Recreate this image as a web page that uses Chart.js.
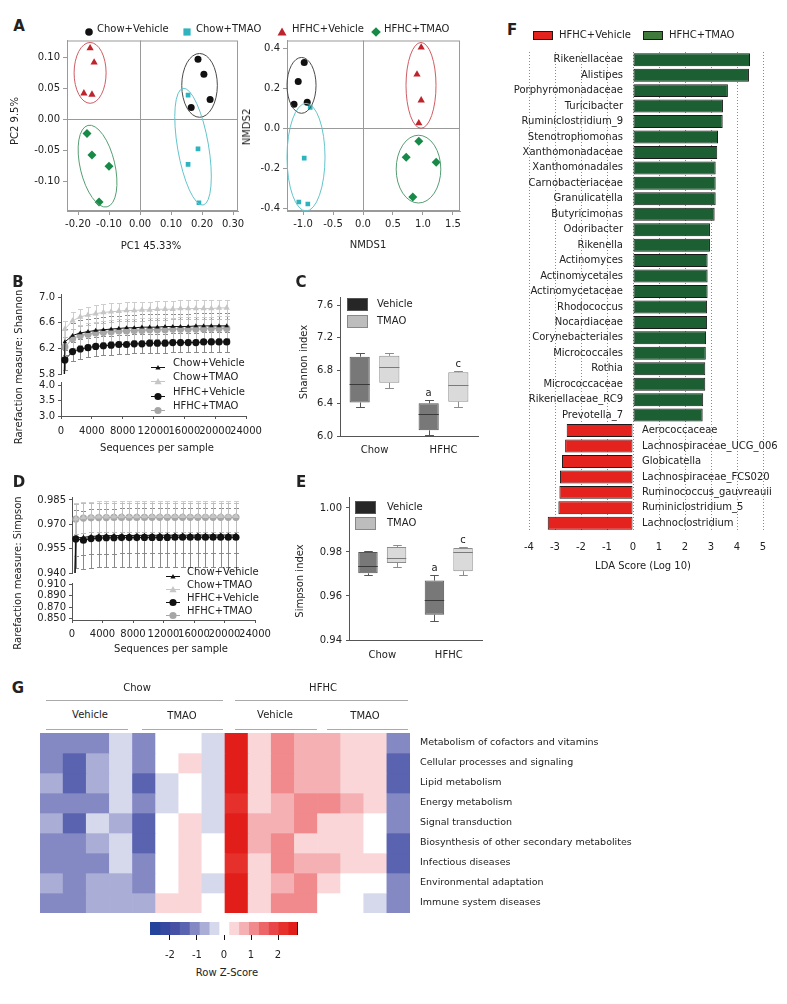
<!DOCTYPE html>
<html>
<head>
<meta charset="utf-8">
<title>Figure</title>
<script src="https://cdn.jsdelivr.net/npm/chart.js@4.4.1/dist/chart.umd.min.js"></script>
<style>
  body { margin: 0; background: #fff; }
  #page { position: relative; width: 787px; height: 1004px; overflow: hidden; font-family: 'DejaVu Sans', sans-serif; color: #222; }
  #page canvas { position: absolute; }
  .t { position: absolute; font-size: 10px; line-height: 12px; white-space: nowrap; }
  .hl { position: absolute; height: 1px; background: #aaa; }
  .sw { position: absolute; box-sizing: border-box; }
</style>
</head>
<body>
<div id="page"></div>
<script>
// ---------- A: PCA and NMDS ----------
const groupNames = ['Chow+Vehicle', 'Chow+TMAO', 'HFHC+Vehicle', 'HFHC+TMAO'];
const pc1 = [[0.187, 0.206, 0.226, 0.165], [0.155, 0.187, 0.155, 0.190], [-0.161, -0.148, -0.181, -0.155], [-0.171, -0.155, -0.100, -0.132]];
const pc2 = [[0.097, 0.073, 0.032, 0.019], [0.039, -0.048, -0.073, -0.135], [0.115, 0.092, 0.042, 0.040], [-0.023, -0.058, -0.076, -0.134]];
const pcTicksX = [-0.2, -0.1, 0, 0.1, 0.2, 0.3];
const pcTicksY = [-0.1, -0.05, 0, 0.05, 0.1];
const nmds1 = [[-0.98, -1.08, -1.15, -0.93], [-0.88, -0.98, -1.07, -0.92], [0.97, 0.90, 0.97, 0.93], [0.93, 0.72, 1.22, 0.83]];
const nmds2 = [[0.33, 0.235, 0.12, 0.13], [0.105, -0.15, -0.37, -0.38], [0.405, 0.27, 0.14, 0.025], [-0.065, -0.145, -0.17, -0.345]];
const nmdsTicksX = [-1, -0.5, 0, 0.5, 1, 1.5];
const nmdsTicksY = [-0.4, -0.2, 0, 0.2, 0.4];
// group ellipses: centre x, centre y, half width, half height (data units), tilt
const pcaHulls = [[0.192, 0.0548, 0.0574, 0.0516, 0], [0.171, -0.0444, 0.050, 0.0958, -0.17], [-0.161, 0.0750, 0.0516, 0.0492, 0], [-0.137, -0.0758, 0.056, 0.0677, -0.23]];
const nmdsHulls = [[-1.025, 0.215, 0.242, 0.14, 0], [-0.95, -0.145, 0.317, 0.27, 0], [0.967, 0.215, 0.25, 0.215, 0], [0.925, -0.205, 0.372, 0.17, 0]];

// ---------- B / D: rarefaction ----------
const depths = [10, 500, 1500, 2500, 3500, 4500, 5500, 6500, 7500, 8500, 9500, 10500, 11500, 12500, 13500, 14500, 15500, 16500, 17500, 18500, 19500, 20500, 21500];
const seqTicks = [0, 4000, 8000, 12000, 16000, 20000, 24000];
const shannonChowVeh = [3.0, 6.30, 6.40, 6.44, 6.46, 6.48, 6.49, 6.50, 6.51, 6.52, 6.52, 6.53, 6.53, 6.53, 6.54, 6.54, 6.54, 6.54, 6.55, 6.55, 6.55, 6.55, 6.55];
const shannonChowTmao = [3.1, 6.50, 6.63, 6.69, 6.72, 6.74, 6.76, 6.77, 6.78, 6.79, 6.79, 6.80, 6.80, 6.81, 6.81, 6.81, 6.82, 6.82, 6.82, 6.82, 6.82, 6.83, 6.83];
const shannonHfhcVeh = [2.95, 6.02, 6.15, 6.19, 6.21, 6.23, 6.24, 6.25, 6.26, 6.26, 6.27, 6.27, 6.28, 6.28, 6.28, 6.29, 6.29, 6.29, 6.29, 6.30, 6.30, 6.30, 6.30];
const shannonHfhcTmao = [3.05, 6.22, 6.35, 6.40, 6.42, 6.44, 6.45, 6.46, 6.47, 6.47, 6.48, 6.48, 6.49, 6.49, 6.49, 6.50, 6.50, 6.50, 6.50, 6.50, 6.51, 6.51, 6.51];
const shannonSd = [0.20, 0.13, 0.15, 0.15];
const shannonTicksHi = [5.8, 6.2, 6.6, 7.0];
const shannonTicksLo = [3.0, 3.5, 4.0];
const simpsonChowVeh = [0.860, 0.9615, 0.9620, 0.9625, 0.9628, 0.9630, 0.9630, 0.9631, 0.9631, 0.9632, 0.9632, 0.9632, 0.9633, 0.9633, 0.9633, 0.9633, 0.9633, 0.9634, 0.9634, 0.9634, 0.9634, 0.9634, 0.9634];
const simpsonChowTmao = [0.870, 0.9735, 0.9742, 0.9745, 0.9746, 0.9747, 0.9747, 0.9748, 0.9748, 0.9748, 0.9748, 0.9749, 0.9749, 0.9749, 0.9749, 0.9749, 0.9749, 0.9749, 0.9750, 0.9750, 0.9750, 0.9750, 0.9750];
const simpsonHfhcVeh = [0.850, 0.9610, 0.9602, 0.9612, 0.9615, 0.9617, 0.9617, 0.9618, 0.9618, 0.9618, 0.9619, 0.9619, 0.9619, 0.9619, 0.9620, 0.9620, 0.9620, 0.9620, 0.9620, 0.9620, 0.9620, 0.9620, 0.9620];
const simpsonHfhcTmao = [0.865, 0.9732, 0.9738, 0.9740, 0.9741, 0.9741, 0.9742, 0.9742, 0.9742, 0.9742, 0.9742, 0.9743, 0.9743, 0.9743, 0.9743, 0.9743, 0.9743, 0.9743, 0.9743, 0.9743, 0.9743, 0.9743, 0.9743];
const simpsonSd = [0.011, 0.0095, 0.018, 0.009];
const simpsonTicksHi = [0.94, 0.955, 0.97, 0.985];
const simpsonTicksLo = [0.85, 0.87, 0.89, 0.91];

// ---------- C / E: box plots ----------
const boxGroups = ['Chow', 'HFHC'];
const shannonVehBox = [[6.41, 6.97], [6.07, 6.40]];
const shannonVehMed = [6.64, 6.27];
const shannonVehRange = [[6.35, 7.02], [6.01, 6.44]];
const shannonTmaoBox = [[6.65, 6.98], [6.42, 6.78]];
const shannonTmaoMed = [6.84, 6.62];
const shannonTmaoRange = [[6.59, 7.02], [6.36, 6.79]];
const shannonVehSig = ['', 'a'];
const shannonTmaoSig = ['', 'c'];
const shannonIdxTicks = [6.0, 6.4, 6.8, 7.2, 7.6];
const simpsonVehBox = [[0.9703, 0.9800], [0.9515, 0.9670]];
const simpsonVehMed = [0.9736, 0.9584];
const simpsonVehRange = [[0.9694, 0.9805], [0.9487, 0.9694]];
const simpsonTmaoBox = [[0.9750, 0.9823], [0.9713, 0.9818]];
const simpsonTmaoMed = [0.9773, 0.9800];
const simpsonTmaoRange = [[0.9731, 0.9832], [0.9694, 0.9823]];
const simpsonVehSig = ['', 'a'];
const simpsonTmaoSig = ['', 'c'];
const simpsonIdxTicks = [0.94, 0.96, 0.98, 1.00];

// ---------- F: LEfSe ----------
const taxa = ['Rikenellaceae', 'Alistipes', 'Porphyromonadaceae', 'Turicibacter', 'Ruminiclostridium_9', 'Stenotrophomonas', 'Xanthomonadaceae', 'Xanthomonadales', 'Carnobacteriaceae', 'Granulicatella', 'Butyricimonas', 'Odoribacter', 'Rikenella', 'Actinomyces', 'Actinomycetales', 'Actinomycetaceae', 'Rhodococcus', 'Nocardiaceae', 'Corynebacteriales', 'Micrococcales', 'Rothia', 'Micrococcaceae', 'Rikenellaceae_RC9', 'Prevotella_7', 'Aerococcaceae', 'Lachnospiraceae_UCG_006', 'Globicatella', 'Lachnospiraceae_FCS020', 'Ruminococcus_gauvreauii', 'Ruminiclostridium_5', 'Lachnoclostridium'];
const ldaScores = [4.5, 4.46, 3.65, 3.46, 3.45, 3.27, 3.24, 3.18, 3.18, 3.18, 3.14, 2.96, 2.96, 2.87, 2.87, 2.87, 2.85, 2.85, 2.81, 2.8, 2.78, 2.78, 2.7, 2.68, -2.55, -2.61, -2.73, -2.81, -2.83, -2.87, -3.28];
const ldaTicks = [-4, -3, -2, -1, 0, 1, 2, 3, 4, 5];

// ---------- G: heatmap ----------
const pathways = ['Metabolism of cofactors and vitamins', 'Cellular processes and signaling', 'Lipid metabolism', 'Energy metabolism', 'Signal transduction', 'Biosynthesis of other secondary metabolites', 'Infectious diseases', 'Environmental adaptation', 'Immune system diseases'];
const heatSamples = ['CV1', 'CV2', 'CV3', 'CV4', 'CT1', 'CT2', 'CT3', 'CT4', 'HV1', 'HV2', 'HV3', 'HV4', 'HT1', 'HT2', 'HT3', 'HT4'];
const heatZ = [
  [-1.1, -1.1, -1.1, -0.35, -1.1, 0, 0, -0.35, 2.5, 0.35, 1.1, 0.75, 0.75, 0.35, 0.35, -1.1],
  [-1.1, -1.45, -0.75, -0.35, -1.1, 0, 0.35, -0.35, 2.5, 0.35, 1.1, 0.75, 0.75, 0.35, 0.35, -1.45],
  [-0.75, -1.45, -0.75, -0.35, -1.45, -0.35, 0, -0.35, 2.5, 0.35, 1.1, 0.75, 0.75, 0.35, 0.35, -1.45],
  [-1.1, -1.1, -1.1, -0.35, -1.1, -0.35, 0, -0.35, 2.2, 0.35, 0.75, 1.1, 1.1, 0.75, 0.35, -1.1],
  [-0.75, -1.45, -0.35, -0.75, -1.45, 0, 0.35, -0.35, 2.5, 0.75, 0.75, 1.1, 0.35, 0.35, 0, -1.1],
  [-1.1, -1.1, -0.75, -0.35, -1.45, 0, 0.35, 0, 2.5, 0.75, 1.1, 0.35, 0.35, 0.35, 0, -1.45],
  [-1.1, -1.1, -1.1, -0.35, -1.1, 0, 0.35, 0, 2.2, 0.35, 1.1, 0.75, 0.75, 0.35, 0.35, -1.45],
  [-0.75, -1.1, -0.75, -0.75, -1.1, 0, 0.35, -0.35, 2.5, 0.35, 0.75, 1.1, 0.35, 0, 0, -1.1],
  [-1.1, -1.1, -0.75, -0.75, -0.75, 0.35, 0.35, 0, 2.5, 0.35, 1.1, 1.1, 0, 0, -0.35, -1.1]
];
const zTicks = [-2, -1, 0, 1, 2];

// ---------- styles ----------
const groupColors = ['#111111', '#2db4be', '#bd242b', '#188a48'];
const groupShapes = ['circle', 'rect', 'triangle', 'rectRot'];
const groupSizes = [3.5, 3.3, 4.2, 4.5];
const hullColors = ['#4a4a4a', '#62c4cc', '#cf5c62', '#559e72'];
const rareColors = ['#111111', '#c6c6c6', '#111111', '#a6a6a6'];
const rareShapes = ['triangle', 'triangle', 'circle', 'circle'];
const rareSizes = [2.6, 3.6, 3.6, 3.6];
const rareErrColors = ['#8a8a8a', '#cdcdcd', '#8a8a8a', '#bdbdbd'];
const zPalette = ['#24449c', '#34499f', '#4650a5', '#5a63b0', '#8489c4', '#aaaed6', '#d6d8ec', '#ffffff', '#fad6d8', '#f4b0b2', '#f08a8c', '#ec6668', '#e84648', '#e5302c', '#e21e1b'];
const zMin = -2.74, zMax = 2.74;
const zStep = (zMax - zMin) / zPalette.length;

Chart.defaults.font.family = "'DejaVu Sans', sans-serif";
Chart.defaults.font.size = 10;
Chart.defaults.color = '#222';
Chart.defaults.animation = false;
Chart.defaults.responsive = false;
Chart.defaults.devicePixelRatio = 1;
Chart.defaults.plugins.legend.display = false;
Chart.defaults.plugins.tooltip.enabled = false;

const page = document.getElementById('page');

function canvasAt(x, y, w, h) {
  const c = document.createElement('canvas');
  c.width = w; c.height = h;
  c.style.left = x + 'px'; c.style.top = y + 'px';
  c.style.width = w + 'px'; c.style.height = h + 'px';
  page.appendChild(c);
  return c;
}
function fixedTicks(list) { return s => { s.ticks = list.map(v => ({ value: v })); }; }
function yFit(w) { return s => { s.width = w; s.paddingTop = 0; s.paddingBottom = 0; }; }
function xFit(h) { return s => { s.height = h; s.paddingLeft = 0; s.paddingRight = 0; }; }
function zColor(z) {
  const k = Math.floor((z - zMin) / zStep);
  return zPalette[Math.max(0, Math.min(zPalette.length - 1, k))];
}

// ---------- plugins ----------
const framePlugin = {
  id: 'frame',
  beforeDatasetsDraw(chart) {
    const { ctx, chartArea: a } = chart;
    ctx.save();
    ctx.strokeStyle = '#9a9a9a';
    ctx.lineWidth = 1;
    ctx.strokeRect(a.left + 0.5, a.top + 0.5, a.width - 1, a.height - 1);
    ctx.restore();
  }
};

function hullPlugin(list, colors) {
  return {
    id: 'hulls',
    afterDatasetsDraw(chart) {
      const { ctx, scales: { x, y } } = chart;
      ctx.save();
      ctx.lineWidth = 1;
      list.forEach((h, i) => {
        const cx = x.getPixelForValue(h[0]), cy = y.getPixelForValue(h[1]);
        const rx = Math.abs(x.getPixelForValue(h[0] + h[2]) - cx);
        const ry = Math.abs(y.getPixelForValue(h[1] + h[3]) - cy);
        ctx.strokeStyle = colors[i];
        ctx.beginPath();
        ctx.ellipse(cx, cy, rx, ry, h[4], 0, Math.PI * 2);
        ctx.stroke();
      });
      ctx.restore();
    }
  };
}

const errorBarPlugin = {
  id: 'errorBars',
  beforeDatasetsDraw(chart) {
    const ctx = chart.ctx;
    chart.data.datasets.forEach((ds, i) => {
      if (!ds.sd) return;
      const meta = chart.getDatasetMeta(i);
      const ys = chart.scales[meta.yAxisID];
      ctx.save();
      ctx.strokeStyle = ds.errColor;
      ctx.lineWidth = 1;
      ctx.beginPath();
      meta.data.forEach((pt, j) => {
        if (j === 0) return;
        const v = ds.data[j].y;
        const x = Math.round(pt.x) + 0.5;
        const top = Math.round(ys.getPixelForValue(v + ds.sd)) + 0.5;
        const bot = Math.round(ys.getPixelForValue(v - ds.sd)) + 0.5;
        ctx.moveTo(x, top); ctx.lineTo(x, bot);
        ctx.moveTo(x - 2.5, top); ctx.lineTo(x + 2.5, top);
        ctx.moveTo(x - 2.5, bot); ctx.lineTo(x + 2.5, bot);
      });
      ctx.stroke();
      ctx.restore();
    });
  }
};

const boxPlugin = {
  id: 'boxParts',
  afterDatasetsDraw(chart) {
    const { ctx } = chart;
    const y = chart.scales.y;
    chart.data.datasets.forEach((ds, i) => {
      const meta = chart.getDatasetMeta(i);
      meta.data.forEach((bar, j) => {
        const hw = bar.width / 2, cap = bar.width * 0.22;
        const [q1, q3] = ds.data[j];
        const [lo, hi] = ds.range[j];
        const pl = Math.round(y.getPixelForValue(lo)) + 0.5, ph = Math.round(y.getPixelForValue(hi)) + 0.5;
        const p1 = y.getPixelForValue(q1), p3 = y.getPixelForValue(q3);
        const pm = Math.round(y.getPixelForValue(ds.med[j])) + 0.5;
        const x = Math.round(bar.x) + 0.5;
        ctx.save();
        ctx.lineWidth = 1;
        ctx.strokeStyle = ds.borderColor;
        ctx.beginPath();
        ctx.moveTo(x, p3); ctx.lineTo(x, ph);
        ctx.moveTo(x - cap, ph); ctx.lineTo(x + cap, ph);
        ctx.moveTo(x, p1); ctx.lineTo(x, pl);
        ctx.moveTo(x - cap, pl); ctx.lineTo(x + cap, pl);
        ctx.stroke();
        ctx.strokeStyle = ds.medColor;
        ctx.beginPath();
        ctx.moveTo(bar.x - hw, pm); ctx.lineTo(bar.x + hw, pm);
        ctx.stroke();
        if (ds.sig[j]) {
          ctx.fillStyle = '#222';
          ctx.font = "10px 'DejaVu Sans'";
          ctx.textAlign = 'center';
          ctx.textBaseline = 'bottom';
          ctx.fillText(ds.sig[j], bar.x, ph - 2);
        }
        ctx.restore();
      });
    });
  }
};

const ldaLabelPlugin = {
  id: 'ldaLabels',
  afterDatasetsDraw(chart) {
    const { ctx, scales: { x, y } } = chart;
    const zero = x.getPixelForValue(0);
    ctx.save();
    ctx.font = "10px 'DejaVu Sans'";
    ctx.fillStyle = '#222';
    ctx.textBaseline = 'middle';
    taxa.forEach((name, i) => {
      const py = y.getPixelForValue(i);
      if (ldaScores[i] >= 0) { ctx.textAlign = 'right'; ctx.fillText(name, zero - 10, py); }
      else { ctx.textAlign = 'left'; ctx.fillText(name, zero + 9, py); }
    });
    ctx.restore();
  }
};

// colour key gets a thin dark edge on its right end
const keyEdgePlugin = {
  id: 'keyEdge',
  afterDatasetsDraw(chart) {
    const { ctx, chartArea: a } = chart;
    ctx.save();
    ctx.strokeStyle = '#111';
    ctx.lineWidth = 1;
    ctx.beginPath();
    ctx.moveTo(a.right - 0.5, a.top); ctx.lineTo(a.right - 0.5, a.bottom);
    ctx.stroke();
    ctx.restore();
  }
};

// ---------- A ----------
function crossAxis(min, max, list, fmt, fit) {
  return {
    type: 'linear', min, max,
    afterBuildTicks: fixedTicks(list), afterFit: fit,
    grid: { color: c => (c.tick && c.tick.value === 0 ? '#9a9a9a' : 'rgba(0,0,0,0)'), tickColor: '#9a9a9a', tickLength: 4 },
    border: { color: '#9a9a9a' },
    ticks: { callback: fmt, padding: 3, autoSkip: false, maxRotation: 0 }
  };
}
function ordinationData(xs, ys) {
  return {
    datasets: groupNames.map((g, i) => ({
      label: g,
      data: xs[i].map((v, j) => ({ x: v, y: ys[i][j] })),
      pointStyle: groupShapes[i], pointRadius: groupSizes[i],
      backgroundColor: groupColors[i], borderColor: groupColors[i], borderWidth: 0
    }))
  };
}

new Chart(canvasAt(0, 36, 244, 216), {
  type: 'scatter',
  data: ordinationData(pc1, pc2),
  options: {
    layout: { padding: { top: 4, right: 6 } },
    scales: {
      x: crossAxis(-0.2355, 0.316, pcTicksX, v => v.toFixed(2), xFit(41)),
      y: crossAxis(-0.1484, 0.1274, pcTicksY, v => v.toFixed(2), yFit(67))
    }
  },
  plugins: [framePlugin, hullPlugin(pcaHulls, hullColors)]
});

new Chart(canvasAt(245, 36, 221, 216), {
  type: 'scatter',
  data: ordinationData(nmds1, nmds2),
  options: {
    layout: { padding: { top: 4, right: 6 } },
    scales: {
      x: crossAxis(-1.267, 1.617, nmdsTicksX, v => v.toFixed(1), xFit(41)),
      y: crossAxis(-0.415, 0.44, nmdsTicksY, v => v.toFixed(1), yFit(42))
    }
  },
  plugins: [framePlugin, hullPlugin(nmdsHulls, hullColors)]
});

// ---------- B / D ----------
function stackY(min, max, list, dec, sw, order, w) {
  return {
    type: 'linear', min, max, stack: 'rare', stackWeight: sw, weight: order,
    afterBuildTicks: fixedTicks(list), afterFit: yFit(w),
    grid: { drawOnChartArea: false, tickLength: 3, color: '#555' },
    border: { color: '#555' },
    ticks: { callback: v => v.toFixed(dec), padding: 3, autoSkip: false }
  };
}
function rareChart(box, area, series, sds, hi, lo, pad) {
  const drawOrder = [0, 2, 1, 3];
  return new Chart(canvasAt(box[0], box[1], box[2], box[3]), {
    type: 'line',
    data: {
      datasets: drawOrder.map(k => ({
        label: groupNames[k],
        data: depths.map((d, j) => ({ x: d, y: series[k][j] })),
        borderColor: rareColors[k], backgroundColor: rareColors[k], borderWidth: 1,
        pointStyle: rareShapes[k], pointRadius: c => (c.dataIndex === 0 ? 0 : rareSizes[k]),
        pointBorderWidth: 0, tension: 0, sd: sds[k], errColor: rareErrColors[k]
      }))
    },
    options: {
      layout: { padding: { top: area.t - box[1], right: box[0] + box[2] - area.r } },
      scales: {
        x: {
          type: 'linear', min: 0, max: 24000,
          afterBuildTicks: fixedTicks(seqTicks), afterFit: xFit(box[1] + box[3] - area.b),
          grid: { drawOnChartArea: false, tickLength: 3, color: '#555' },
          border: { color: '#555' },
          ticks: { callback: v => String(v), autoSkip: false, maxRotation: 0, padding: pad }
        },
        y: stackY(hi.min, hi.max, hi.ticks, hi.dec, hi.w, 3, area.l - box[0]),
        yg: { type: 'linear', display: false, stack: 'rare', stackWeight: area.gap, weight: 2 },
        y2: stackY(lo.min, lo.max, lo.ticks, lo.dec, lo.w, 1, area.l - box[0])
      }
    },
    plugins: [errorBarPlugin]
  });
}

rareChart([0, 288, 268, 157], { l: 61, t: 294, r: 246, b: 416, gap: 8 },
  [shannonChowVeh, shannonChowTmao, shannonHfhcVeh, shannonHfhcTmao], shannonSd,
  { min: 5.8, max: 7.047, ticks: shannonTicksHi, dec: 1, w: 80 },
  { min: 3.0, max: 4.1, ticks: shannonTicksLo, dec: 1, w: 34 }, 6);

rareChart([0, 490, 276, 152], { l: 72, t: 497, r: 255, b: 620, gap: 10 },
  [simpsonChowVeh, simpsonChowTmao, simpsonHfhcVeh, simpsonHfhcTmao], simpsonSd,
  { min: 0.94, max: 0.9868, ticks: simpsonTicksHi, dec: 3, w: 76 },
  { min: 0.848, max: 0.912, ticks: simpsonTicksLo, dec: 3, w: 37 }, 5);

// ---------- C / E ----------
function boxChart(box, area, veh, tmao, yr, pad) {
  return new Chart(canvasAt(box[0], box[1], box[2], box[3]), {
    type: 'bar',
    data: {
      labels: boxGroups,
      datasets: [
        { label: 'Vehicle', data: veh.box, range: veh.range, med: veh.med, sig: veh.sig,
          backgroundColor: '#787878', borderColor: '#555555', medColor: '#3a3a3a', borderWidth: 1, borderSkipped: false },
        { label: 'TMAO', data: tmao.box, range: tmao.range, med: tmao.med, sig: tmao.sig,
          backgroundColor: '#dadada', borderColor: '#8c8c8c', medColor: '#7a7a7a', borderWidth: 1, borderSkipped: false }
      ]
    },
    options: {
      layout: { padding: { top: area.t - box[1], right: box[0] + box[2] - area.r } },
      datasets: { bar: { categoryPercentage: 0.86, barPercentage: 0.68 } },
      scales: {
        x: {
          afterFit: xFit(box[1] + box[3] - area.b),
          grid: { display: false, drawTicks: false },
          border: { color: '#555' },
          ticks: { padding: pad }
        },
        y: {
          type: 'linear', min: yr.min, max: yr.max,
          afterBuildTicks: fixedTicks(yr.ticks), afterFit: yFit(area.l - box[0]),
          grid: { drawOnChartArea: false, tickLength: 3, color: '#555' },
          border: { color: '#555' },
          ticks: { callback: v => v.toFixed(yr.dec), padding: 4, autoSkip: false }
        }
      }
    },
    plugins: [boxPlugin]
  });
}

boxChart([300, 290, 182, 170], { l: 340, t: 297, r: 478, b: 436 },
  { box: shannonVehBox, range: shannonVehRange, med: shannonVehMed, sig: shannonVehSig },
  { box: shannonTmaoBox, range: shannonTmaoRange, med: shannonTmaoMed, sig: shannonTmaoSig },
  { min: 6.0, max: 7.7, ticks: shannonIdxTicks, dec: 1 }, 8);

boxChart([300, 490, 186, 172], { l: 349, t: 497, r: 482, b: 640 },
  { box: simpsonVehBox, range: simpsonVehRange, med: simpsonVehMed, sig: simpsonVehSig },
  { box: simpsonTmaoBox, range: simpsonTmaoRange, med: simpsonTmaoMed, sig: simpsonTmaoSig },
  { min: 0.94, max: 1.005, ticks: simpsonIdxTicks, dec: 2 }, 9);

// ---------- F ----------
new Chart(canvasAt(500, 44, 287, 535), {
  type: 'bar',
  data: {
    labels: taxa,
    datasets: [{
      data: ldaScores,
      backgroundColor: ldaScores.map(v => (v > 0 ? '#1c5f33' : '#e4231f')),
      borderColor: '#1a1a1a', borderWidth: 1, borderSkipped: false,
      barPercentage: 0.84, categoryPercentage: 1
    }]
  },
  options: {
    indexAxis: 'y',
    layout: { padding: { left: 29, right: 24, top: 8 } },
    scales: {
      x: {
        type: 'linear', min: -4, max: 5,
        afterBuildTicks: fixedTicks(ldaTicks), afterFit: xFit(48),
        grid: { color: '#8a8a8a', drawTicks: false },
        border: { display: false, dash: [1, 2] },
        ticks: { padding: 10, autoSkip: false }
      },
      y: { display: false }
    }
  },
  plugins: [ldaLabelPlugin]
});

// ---------- G ----------
new Chart(canvasAt(40, 733, 747, 180), {
  type: 'bar',
  data: {
    labels: heatSamples,
    datasets: pathways.map((p, r) => ({
      label: p,
      data: heatZ[r].map(() => 1),
      backgroundColor: heatZ[r].map(zColor),
      borderWidth: 0, barPercentage: 1, categoryPercentage: 1
    }))
  },
  options: {
    scales: {
      x: { stacked: true, display: false },
      y: { stacked: true, display: false, min: 0, max: 9, reverse: true },
      names: {
        type: 'category', labels: pathways, position: 'right', offset: true,
        grid: { display: false, drawTicks: false }, border: { display: false },
        ticks: { padding: 10, autoSkip: false, font: { size: 9.5 } },
        afterFit: s => { s.width = 377; s.paddingTop = 0; s.paddingBottom = 0; }
      }
    }
  }
});

new Chart(canvasAt(140, 918, 170, 46), {
  type: 'bar',
  data: {
    labels: ['z'],
    datasets: zPalette.map((col, k) => ({
      data: [[zMin + k * zStep, zMin + (k + 1) * zStep]],
      backgroundColor: col, borderWidth: 0, grouped: false,
      barPercentage: 1, categoryPercentage: 1
    }))
  },
  options: {
    indexAxis: 'y',
    layout: { padding: { left: 10, right: 12, top: 4 } },
    scales: {
      y: { display: false },
      x: {
        type: 'linear', min: zMin, max: zMax,
        afterBuildTicks: fixedTicks(zTicks), afterFit: xFit(29),
        grid: { drawOnChartArea: false, tickLength: 5, color: '#111' },
        border: { display: false },
        ticks: { padding: 9, autoSkip: false }
      }
    }
  },
  plugins: [keyEdgePlugin]
});

// ---------- text, legends ----------
function addText(str, x, y, o = {}) {
  const d = document.createElement('div');
  d.className = 't';
  d.textContent = str;
  d.style.left = x + 'px';
  d.style.top = y + 'px';
  if (o.size) { d.style.fontSize = o.size + 'px'; d.style.lineHeight = Math.round(o.size * 1.2) + 'px'; }
  if (o.bold) d.style.fontWeight = 'bold';
  d.style.transform = 'translate(' + (o.left ? '0' : '-50%') + ',-50%)' + (o.rot ? ' rotate(-90deg)' : '');
  page.appendChild(d);
}
function addSvg(inner, x, y, w, h) {
  const d = document.createElement('div');
  d.style.cssText = 'position:absolute;left:' + (x - w / 2) + 'px;top:' + (y - h / 2) + 'px;width:' + w + 'px;height:' + h + 'px';
  d.innerHTML = '<svg width="' + w + '" height="' + h + '" viewBox="0 0 ' + w + ' ' + h + '">' + inner + '</svg>';
  page.appendChild(d);
}
function shapeSvg(shape, cx, cy, r, fill) {
  if (shape === 'circle') return '<circle cx="' + cx + '" cy="' + cy + '" r="' + r + '" fill="' + fill + '"/>';
  if (shape === 'rect') return '<rect x="' + (cx - r) + '" y="' + (cy - r) + '" width="' + 2 * r + '" height="' + 2 * r + '" fill="' + fill + '"/>';
  if (shape === 'triangle') return '<polygon points="' + cx + ',' + (cy - r) + ' ' + (cx + r) + ',' + (cy + r * 0.75) + ' ' + (cx - r) + ',' + (cy + r * 0.75) + '" fill="' + fill + '"/>';
  return '<polygon points="' + cx + ',' + (cy - r) + ' ' + (cx + r) + ',' + cy + ' ' + cx + ',' + (cy + r) + ' ' + (cx - r) + ',' + cy + '" fill="' + fill + '"/>';
}
function hline(x1, x2, y) {
  const d = document.createElement('div');
  d.className = 'hl';
  d.style.left = x1 + 'px'; d.style.top = y + 'px'; d.style.width = (x2 - x1) + 'px';
  page.appendChild(d);
}
function swatch(x1, y1, x2, y2, fill, stroke) {
  const d = document.createElement('div');
  d.className = 'sw';
  d.style.cssText += 'left:' + x1 + 'px;top:' + y1 + 'px;width:' + (x2 - x1) + 'px;height:' + (y2 - y1) + 'px;background:' + fill + ';border:1px solid ' + stroke;
  page.appendChild(d);
}

// panel letters
[['A', 19, 26], ['B', 18, 282], ['C', 301, 282], ['D', 19, 482], ['E', 301, 482], ['F', 512, 30], ['G', 18, 688]]
  .forEach(([s, x, y]) => addText(s, x, y, { bold: true, size: 15 }));

// A legend
const aLegendX = [[89, 97], [187, 196], [282, 292], [376, 384]];
groupNames.forEach((g, i) => {
  addSvg(shapeSvg(groupShapes[i], 6, 6, groupSizes[i] + 0.3, groupColors[i]), aLegendX[i][0], 29, 12, 12);
  addText(g, aLegendX[i][1], 29, { left: true });
});
addText('PC2 9.5%', 15, 121, { rot: true });
addText('PC1 45.33%', 151, 246);
addText('NMDS2', 247, 127, { rot: true });
addText('NMDS1', 368, 245);

// B / D legends
function rareLegend(mx, tx, rows) {
  groupNames.forEach((g, k) => {
    addSvg('<line x1="0" y1="5.5" x2="14" y2="5.5" stroke="' + rareColors[k] + '" stroke-width="1"/>' +
      shapeSvg(rareShapes[k], 7, 5.5, rareSizes[k], rareColors[k]), mx, rows[k], 14, 11);
    addText(g, tx, rows[k], { left: true });
  });
}
rareLegend(158, 173, [363, 377, 392, 406]);
rareLegend(173, 187, [572, 585, 598, 611]);
addText('Rarefaction measure: Shannon', 19, 367, { rot: true });
addText('Sequences per sample', 157, 448);
addText('Rarefaction measure: Simpson', 18, 573, { rot: true });
addText('Sequences per sample', 171, 649);

// C / E legends
swatch(347, 298, 368, 311, '#262626', '#555');
swatch(347, 315, 368, 328, '#bdbdbd', '#888');
addText('Vehicle', 377, 304, { left: true });
addText('TMAO', 377, 321, { left: true });
addText('Shannon index', 304, 362, { rot: true });
swatch(355, 501, 376, 514, '#262626', '#555');
swatch(355, 517, 376, 530, '#bdbdbd', '#888');
addText('Vehicle', 387, 507, { left: true });
addText('TMAO', 387, 523, { left: true });
addText('Simpson index', 300, 581, { rot: true });

// F legend
swatch(533, 31, 553, 40, '#e4231f', '#1a1a1a');
addText('HFHC+Vehicle', 559, 35, { left: true });
swatch(643, 31, 663, 40, '#3f7a3c', '#1a1a1a');
addText('HFHC+TMAO', 669, 35, { left: true });
addText('LDA Score (Log 10)', 643, 566);

// G headers
addText('Chow', 137, 688); hline(46, 223, 700);
addText('HFHC', 323, 688); hline(235, 408, 700);
addText('Vehicle', 90, 715); hline(46, 128, 729);
addText('TMAO', 182, 716); hline(142, 223, 729);
addText('Vehicle', 275, 715); hline(235, 317, 729);
addText('TMAO', 365, 716); hline(327, 408, 729);
addText('Row Z-Score', 227, 973);
</script>
</body>
</html>
